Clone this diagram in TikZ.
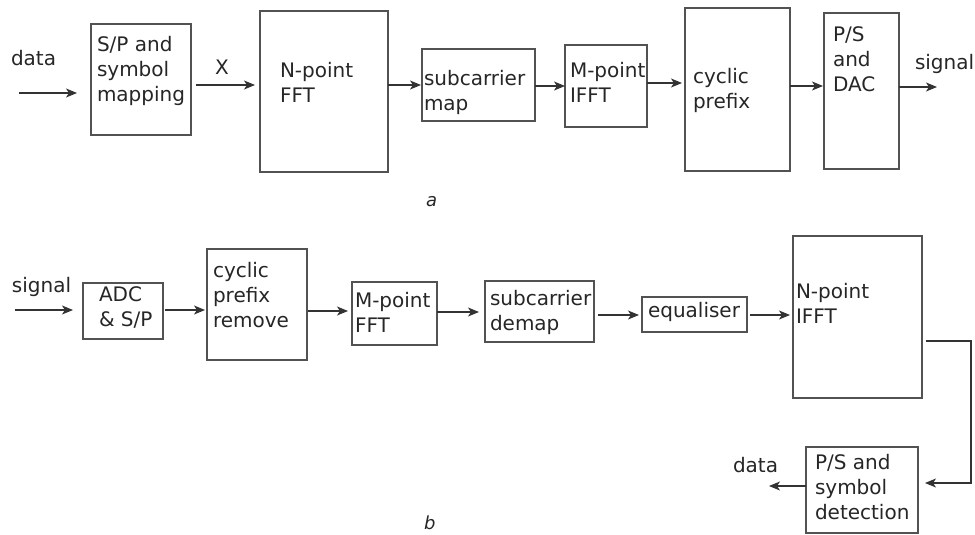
\documentclass[tikz,border=0pt]{standalone}
\usepackage{fontspec}
\setmainfont{DejaVu Sans}
\usetikzlibrary{arrows.meta}
\begin{document}
\begin{tikzpicture}[x=1pt,y=-1pt,
  blk/.style={draw=black!68, line width=1.3pt, inner sep=0pt, outer sep=0pt, anchor=north west},
  txt/.style={inner sep=0pt, outer sep=0pt, anchor=north west, align=left, text=black!85, font=\fontsize{20}{25}\selectfont},
  partlbl/.style={inner sep=0pt, anchor=north west, text=black!85, font=\fontsize{18}{22}\selectfont\itshape},
  arr/.style={draw=black!80, line width=1.3pt, -{Stealth[length=11pt,width=9pt,inset=3pt]}}]
\useasboundingbox (0,0) rectangle (975,535);
% ---------- part a ----------
\node[blk, minimum width=100pt, minimum height=111pt] (sp)    at (91,24)  {};
\node[blk, minimum width=128pt, minimum height=161pt] (nfft)  at (260,11) {};
\node[blk, minimum width=113pt, minimum height=72pt]  (smap)  at (422,49) {};
\node[blk, minimum width=82pt,  minimum height=82pt]  (mifft) at (565,45) {};
\node[blk, minimum width=105pt, minimum height=163pt] (cp)    at (685,8)  {};
\node[blk, minimum width=75pt,  minimum height=156pt] (ps)    at (824,13) {};

\node[txt] (tdata)  at (11,50)  {data};
\node[txt] (tsp)    at (97,36)  {S/P and\\symbol\\mapping};
\node[txt] (tx)     at (215,60) {X};
\node[txt] (tnfft)  at (280,62) {N-point\\FFT};
\node[txt] (tsmap)  at (424,70) {subcarrier\\map};
\node[txt] (tmifft) at (570,62) {M-point\\IFFT};
\node[txt] (tcp)    at (693,68) {cyclic\\prefix};
\node[txt] (tps)    at (833,27) {P/S\\and\\DAC};
\node[txt] (tsig)   at (915,54) {signal};
\node[partlbl] (ta) at (426,196) {a};

\coordinate (din) at (19,93);
\draw[arr, shorten >=14pt] (din) -- (din -| sp.west);
\draw[arr, shorten <=5pt, shorten >=5pt] (sp.east |- 0,85) -- (nfft.west |- 0,85);
\draw[arr, shorten >=1pt] (nfft.east |- 0,85) -- (smap.west |- 0,85);
\draw[arr] (smap.east |- 0,86) -- (mifft.west |- 0,86);
\draw[arr, shorten >=3pt] (mifft.east |- 0,83) -- (cp.west |- 0,83);
\draw[arr, shorten >=1pt] (cp.east |- 0,86) -- (ps.west |- 0,86);
\coordinate (sout) at (937,87);
\draw[arr] (ps.east |- sout) -- (sout);

% ---------- part b ----------
\node[blk, minimum width=80pt,  minimum height=56pt]  (adc)   at (83,283)  {};
\node[blk, minimum width=100pt, minimum height=111pt] (cpr)   at (207,249) {};
\node[blk, minimum width=85pt,  minimum height=63pt]  (mfft)  at (352,282) {};
\node[blk, minimum width=109pt, minimum height=61pt]  (sdm)   at (485,281) {};
\node[blk, minimum width=105pt, minimum height=35pt]  (eq)    at (642,297) {};
\node[blk, minimum width=129pt, minimum height=162pt] (nifft) at (793,236) {};
\node[blk, minimum width=112pt, minimum height=86pt]  (psd)   at (806,447) {};

\node[txt] (tsig2)  at (12,277)  {signal};
\node[txt] (tadc)   at (99,287)  {ADC\\\& S/P};
\node[txt] (tcpr)   at (213,262) {cyclic\\prefix\\remove};
\node[txt] (tmfft)  at (355,292) {M-point\\FFT};
\node[txt] (tsdm)   at (490,290) {subcarrier\\demap};
\node[txt] (teq)    at (648,302) {equaliser};
\node[txt] (tnifft) at (796,283) {N-point\\IFFT};
\node[txt] (tdata2) at (733,457) {data};
\node[txt] (tpsd)   at (815,454) {P/S and\\symbol\\detection};
\node[partlbl] (tb) at (424,516) {b};

\coordinate (sin) at (15,310);
\draw[arr, shorten >=10pt] (sin) -- (sin -| adc.west);
\draw[arr, shorten <=2pt, shorten >=2pt] (adc.east |- 0,310) -- (cpr.west |- 0,310);
\draw[arr, shorten <=1pt, shorten >=4pt] (cpr.east |- 0,311) -- (mfft.west |- 0,311);
\draw[arr, shorten >=6pt] (mfft.east |- 0,312) -- (sdm.west |- 0,312);
\draw[arr, shorten <=4pt, shorten >=3pt] (sdm.east |- 0,315) -- (eq.west |- 0,315);
\draw[arr, shorten <=3pt, shorten >=3pt] (eq.east |- 0,315) -- (nifft.west |- 0,315);
\coordinate (turn) at (971,341);
\draw[arr, line width=1.5pt, shorten <=4pt, shorten >=7pt] (nifft.east |- turn) -- (turn) |- (psd.east |- 0,483);
\coordinate (dout) at (769,486);
\draw[arr] (psd.west |- dout) -- (dout);
\end{tikzpicture}
\end{document}
